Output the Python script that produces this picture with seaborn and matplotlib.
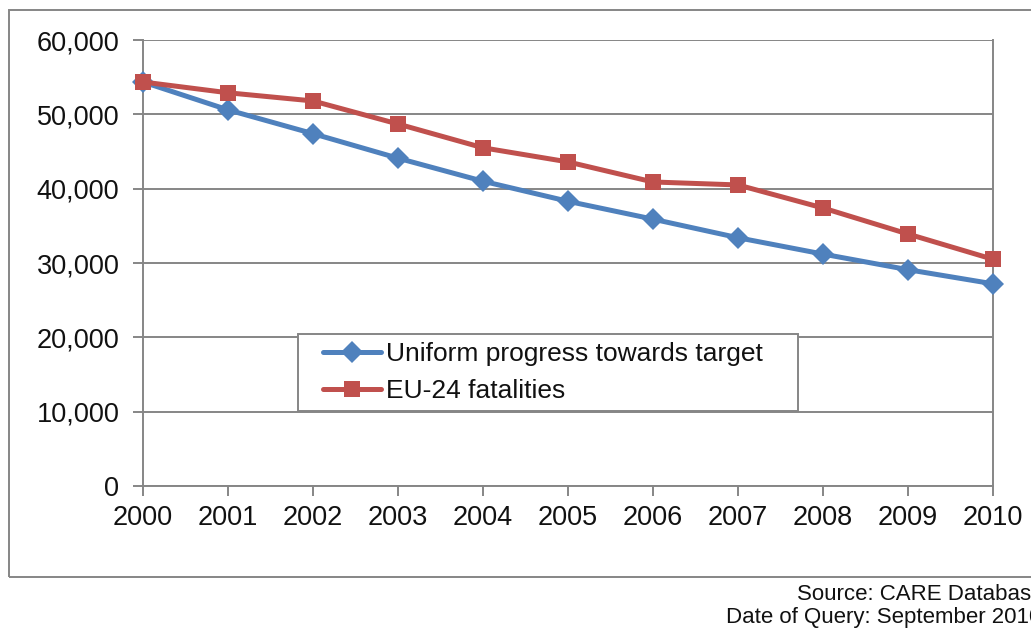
import matplotlib
matplotlib.use("Agg")
import matplotlib.pyplot as plt
import seaborn as sns
import pandas as pd
from matplotlib.patches import Rectangle

years = [2000, 2001, 2002, 2003, 2004, 2005, 2006, 2007, 2008, 2009, 2010]
uniform_progress = [54350, 50600, 47400, 44100, 41000, 38300, 35900, 33400, 31200, 29100, 27200]
eu24_fatalities = [54350, 52900, 51800, 48700, 45500, 43600, 40900, 40500, 37400, 33900, 30500]
series_names = ["Uniform progress towards target", "EU-24 fatalities"]
y_ticks = [0, 10000, 20000, 30000, 40000, 50000, 60000]

sns.set_theme(style="white")
plt.rcParams["font.family"] = ["Liberation Sans", "DejaVu Sans"]

df = pd.DataFrame({
    "year": years * 2,
    "value": uniform_progress + eu24_fatalities,
    "series": [series_names[0]] * len(years) + [series_names[1]] * len(years),
})

W, H = 1031, 628
fig = plt.figure(figsize=(W / 100, H / 100), dpi=100)
ax = fig.add_axes([143 / W, 1 - 486 / H, 850 / W, 446 / H])

grey = "#868686"
palette = {series_names[0]: "#4F81BD", series_names[1]: "#C0504D"}
markers = {series_names[0]: "D", series_names[1]: "s"}

sns.lineplot(data=df, x="year", y="value", hue="series", style="series",
             palette=palette, markers=markers, dashes=False, ax=ax,
             linewidth=3.6, markersize=11, markeredgewidth=0, clip_on=False,
             zorder=3)

ax.set_xlim(2000, 2010)
ax.set_ylim(0, 60000)
ax.set_xticks(years)
ax.set_xticklabels([str(y) for y in years])
ax.set_yticks(y_ticks)
ax.set_yticklabels([f"{v:,}" for v in y_ticks])
ax.set_xlabel("")
ax.set_ylabel("")

ax.grid(axis="y", color=grey, linewidth=1.4)
ax.grid(axis="x", visible=False)
for side in ["left", "bottom", "right"]:
    ax.spines[side].set_visible(True)
    ax.spines[side].set_color(grey)
    ax.spines[side].set_linewidth(1.4)
ax.spines["top"].set_visible(False)

ax.tick_params(axis="both", which="major", direction="out", length=7, width=1.4,
               color=grey, labelsize=19.5, labelcolor="#111111")
ax.tick_params(axis="x", pad=7, bottom=True)
ax.tick_params(axis="y", pad=10, left=True)

# Legend box drawn as its own rectangle, legend entries placed inside it
box_x0, box_x1, box_y0, box_y1 = 298, 798, 334, 411
ax.add_patch(Rectangle(((box_x0 - 143) / 850, (486 - box_y1) / 446),
                       (box_x1 - box_x0) / 850, (box_y1 - box_y0) / 446,
                       transform=ax.transAxes, facecolor="white",
                       edgecolor=grey, linewidth=1.4, zorder=4))

handles, labels = ax.get_legend_handles_labels()
leg = ax.legend(handles, labels, loc="center left",
                bbox_to_anchor=((323 - 143) / 850, (486 - 372.5) / 446),
                fontsize=19, frameon=False, handlelength=2.2,
                handletextpad=0.2, borderpad=0, labelspacing=0.5,
                borderaxespad=0)
leg.set_zorder(5)
for t in leg.get_texts():
    t.set_color("#111111")

# Outer chart frame
fig.patches.append(Rectangle((9 / W, 1 - 577 / H), 1.1, (577 - 10) / H,
                             transform=fig.transFigure, fill=False,
                             edgecolor=grey, linewidth=1.4, zorder=0))

fig.text(797 / W, 1 - 594 / H, "Source: CARE Database", fontsize=16,
         ha="left", va="center", color="#111111")
fig.text(726 / W, 1 - 617 / H, "Date of Query: September 2010", fontsize=16,
         ha="left", va="center", color="#111111")

fig.savefig("out.png", dpi=100)
